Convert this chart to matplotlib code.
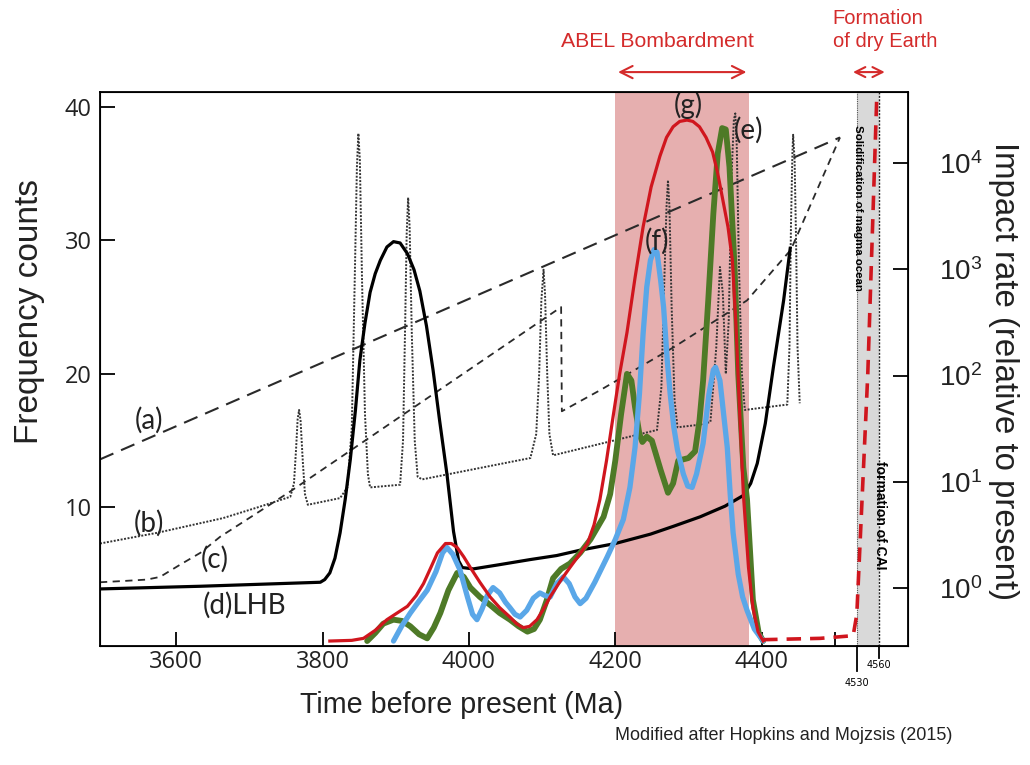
import matplotlib.pyplot as plt
from matplotlib.ticker import NullLocator

plt.rcParams['mathtext.default'] = 'regular'

# age axis (Ma) and y values (frequency counts)
a_age = [3496, 4507]
a_val = [13.6, 37.7]

b_age = [3496, 3574, 3664, 3711, 3756, 3761, 3764, 3766, 3768, 3770, 3773, 3776, 3780,
         3824, 3834, 3840, 3844, 3847, 3849, 3851, 3854, 3858, 3862, 3865,
         3906, 3910, 3913, 3915, 3917, 3919, 3922, 3926, 3930, 3936,
         4084, 4092, 4096, 4099, 4102, 4104, 4107, 4110, 4115,
         4257, 4263, 4267, 4270, 4272, 4274, 4277, 4281, 4285,
         4316, 4330, 4338, 4343, 4347, 4351, 4355, 4359, 4362, 4364, 4366, 4369, 4373, 4377,
         4435, 4438, 4440, 4442, 4443, 4445, 4447, 4449, 4452]
b_val = [7.3, 8.1, 9.2, 10.0, 10.8, 11.8, 14.5, 16.6, 17.3, 16.5, 13.5, 11.0, 10.2,
         10.7, 11.5, 16.0, 27.0, 35.5, 38.0, 36.0, 27.0, 17.0, 12.5, 11.5,
         11.7, 15.0, 24.0, 30.5, 33.2, 31.0, 23.0, 15.0, 12.3, 12.1,
         13.7, 15.5, 20.0, 25.5, 27.8, 26.0, 20.0, 15.5, 13.9,
         15.8, 19.0, 27.0, 32.5, 34.5, 32.5, 25.0, 18.0, 16.0,
         16.2, 16.4, 22.0, 28.0, 26.0, 20.0, 24.0, 35.0, 39.0, 39.5, 37.0, 28.0, 20.0, 17.3,
         17.7, 22.0, 31.0, 36.5, 37.9, 36.0, 30.0, 22.0, 17.8]

c_age = [3496, 3530, 3560, 3578, 3605, 3633, 3660, 3711, 3756, 3850, 3933, 4000, 4126, 4127,
         4180, 4280, 4380, 4440, 4507]
c_val = [4.4, 4.5, 4.6, 4.8, 5.7, 6.6, 7.8, 9.6, 11.2, 14.7, 17.8, 20.3, 25.0, 17.2,
         18.8, 22.0, 25.5, 29.3, 37.7]

lhb_age = [3496, 3633, 3797, 3803, 3810, 3817, 3824, 3831, 3838, 3845, 3851, 3858, 3865,
           3872, 3879, 3888, 3897, 3906, 3916, 3925, 3933, 3942, 3951, 3960, 3970, 3979,
           3986, 3991, 4006, 4040, 4084, 4120, 4152, 4200, 4248, 4280, 4316, 4350, 4375,
           4385, 4394, 4405, 4416, 4423, 4430, 4439]
lhb_val = [3.9, 4.1, 4.4, 4.6, 5.1, 6.2, 8.1, 10.6, 13.6, 17.3, 21.0, 23.8, 26.1,
           27.5, 28.5, 29.5, 29.9, 29.8, 29.0, 27.8, 26.2, 23.6, 20.3, 16.5, 12.5, 8.2,
           6.0, 5.5, 5.4, 5.7, 6.1, 6.4, 6.8, 7.3, 8.0, 8.6, 9.3, 10.1, 10.9,
           11.8, 13.3, 16.3, 20.5, 23.0, 25.5, 29.4]

e_age = [3861, 3872, 3883, 3897, 3909, 3920, 3932, 3943, 3952, 3961, 3972, 3984, 3993,
         4002, 4015, 4029, 4042, 4056, 4068, 4080, 4089, 4097, 4106, 4115, 4126, 4138,
         4152, 4166, 4184, 4193, 4200, 4208, 4216, 4222, 4227, 4233, 4237, 4243, 4250,
         4262, 4272, 4279, 4286, 4300, 4309, 4315, 4320, 4327, 4334, 4340, 4346, 4351,
         4356, 4363, 4368, 4375, 4380, 4388, 4396, 4402]
e_val = [0.0, 0.6, 1.3, 1.6, 1.5, 1.1, 0.5, 0.2, 1.0, 2.1, 3.8, 5.1, 4.8,
         4.0, 3.3, 2.7, 2.1, 1.6, 1.1, 0.7, 0.9, 1.6, 3.0, 4.7, 5.4, 5.8,
         6.6, 7.6, 9.3, 11.0, 13.5, 17.0, 20.0, 19.5, 17.5, 15.5, 14.9, 15.3, 15.0,
         12.8, 11.1, 11.8, 13.5, 13.7, 14.2, 16.5, 19.5, 25.5, 32.0, 36.5, 38.4, 38.3,
         35.5, 28.0, 20.0, 13.0, 10.6, 3.1, 0.6, 0.0]

f_age = [3897, 3908, 3920, 3932, 3943, 3955, 3964, 3970, 3978, 3988, 3998, 4005, 4011,
         4018, 4025, 4033, 4042, 4050, 4056, 4063, 4070, 4079, 4088, 4097, 4104, 4111,
         4120, 4129, 4137, 4145, 4152, 4160, 4172, 4189, 4200, 4211, 4220, 4227, 4233,
         4238, 4243, 4248, 4253, 4257, 4262, 4266, 4271, 4275, 4280, 4285, 4293, 4299,
         4305, 4311, 4320, 4328, 4334, 4337, 4343, 4348, 4353, 4357, 4361, 4368, 4374,
         4380, 4390, 4402]
f_val = [0.0, 1.1, 2.1, 3.0, 3.8, 5.2, 6.6, 7.0, 6.5, 5.3, 3.3, 2.0, 1.6,
         2.4, 3.4, 4.0, 3.6, 2.9, 2.5, 2.0, 1.8, 2.3, 3.2, 3.6, 3.4, 3.3,
         4.3, 4.8, 4.3, 3.3, 2.8, 3.2, 4.4, 6.3, 7.6, 9.1, 11.5, 14.5, 18.5,
         23.0, 26.5, 28.5, 29.3, 29.1, 27.0, 25.0, 21.0, 18.5, 16.0, 14.3, 12.5, 11.6,
         11.5, 12.5, 14.8, 18.5, 20.3, 20.5, 19.5, 17.0, 14.5, 11.0, 8.1, 5.0, 3.3,
         2.3, 0.9, 0.0]

g_age = [3810, 3840, 3856, 3872, 3888, 3902, 3916, 3928, 3938, 3948, 3957, 3968, 3976,
         3984, 3993, 4002, 4015, 4029, 4042, 4056, 4065, 4074, 4083, 4093, 4102, 4111,
         4125, 4138, 4150, 4162, 4171, 4179, 4188, 4197, 4206, 4216, 4227, 4238, 4249,
         4261, 4270, 4279, 4288, 4298, 4306, 4315, 4324, 4333, 4340, 4347, 4354, 4360,
         4365, 4370, 4375, 4382, 4388, 4395, 4402]
g_val = [0.0, 0.05, 0.2, 0.8, 1.6, 2.1, 2.6, 3.4, 4.3, 5.5, 6.6, 7.3, 7.3,
         7.0, 6.3, 5.5, 4.4, 3.3, 2.5, 1.8, 1.3, 1.0, 1.1, 1.6, 2.4, 3.3,
         4.5, 5.5, 6.4, 7.3, 8.7, 10.6, 13.5, 16.8, 20.0, 23.1, 27.2, 31.0, 34.0,
         36.3, 37.7, 38.5, 38.9, 39.0, 38.9, 38.5, 37.7, 36.6, 35.0, 33.0, 31.0, 28.5,
         23.5, 17.0, 11.0, 5.5, 2.5, 0.7, 0.0]

dry_age = [4402, 4480, 4525, 4530, 4545, 4558]
dry_val = [0.1, 0.2, 0.4, 2.0, 20.0, 42.0]

abel_span = [4200, 4383]
event_ages = [4530, 4560]

rate_ticks = [1, 10, 100, 1000, 10000]
rate_labels = ['$10^{0}$', '$10^{1}$', '$10^{2}$', '$10^{3}$', '$10^{4}$']

red = '#D42B2B'

fig = plt.figure(figsize=(10.3, 7.65), dpi=100)
ax = fig.add_axes([0.0971, 0.1556, 0.7845, 0.7241])

ax.axvspan(abel_span[0], abel_span[1], color='#E6AFAF', lw=0, zorder=0)
ax.axvspan(event_ages[0], event_ages[1], color='#D9D9D9', lw=0, zorder=0)
ax.axvline(event_ages[0], color='#555555', lw=0.8, ls=(0, (1, 1)), zorder=1)
ax.axvline(event_ages[1], color='#222222', lw=1.0, ls=(0, (1.5, 1)), zorder=1)

ax.plot(a_age, a_val, color='#2a2a2a', lw=1.5, ls=(0, (7, 4)), zorder=2)
ax.plot(b_age, b_val, color='#333333', lw=1.4, ls=(0, (1, 0.8)), zorder=2)
ax.plot(c_age, c_val, color='#2a2a2a', lw=1.3, ls=(0, (4, 3)), zorder=2)
ax.plot(lhb_age, lhb_val, color='black', lw=2.3, zorder=3, solid_joinstyle='round')
ax.plot(e_age, e_val, color='#4E7A27', lw=4.2, zorder=4, solid_joinstyle='round', solid_capstyle='round')
ax.plot(f_age, f_val, color='#5AA7E8', lw=3.8, zorder=5, solid_joinstyle='round', solid_capstyle='round')
ax.plot(g_age, g_val, color='#D0161E', lw=2.3, zorder=6, solid_joinstyle='round')
ax.plot(dry_age, dry_val, color='#D0161E', lw=2.6, ls=(0, (4, 2.5)), zorder=6)

lab = dict(fontsize=20, family='Lato', color='#222222', ha='center', va='center', zorder=7)
ax.text(3563, 16.5, '(a)', **lab)
ax.text(3563, 8.8, '(b)', **lab)
ax.text(3653, 6.1, '(c)', **lab)
ax.text(3694, 2.7, '(d)LHB', **lab)
ax.text(4300, 40.1, '(g)', **lab)
ax.text(4382, 38.2, '(e)', **lab)
ax.text(4257, 29.9, '(f)', **lab)

ax.text(4532, 32.4, 'Solidification of magma ocean', rotation=270, fontsize=8.2,
        fontweight='bold', ha='center', va='center', family='Liberation Sans')
ax.text(4561, 9.4, 'formation of CAI', rotation=270, fontsize=10,
        fontweight='bold', ha='center', va='center', family='Liberation Sans')

ax.set_xlim(3496, 4600)
ax.set_ylim(-0.37, 41.1)
ax.set_xticks([3600, 3800, 4000, 4200, 4400, 4500])
ax.set_xticklabels(['3600', '3800', '4000', '4200', '4400', ''])
ax.set_yticks([10, 20, 30, 40])
ax.tick_params(axis='x', direction='in', length=10, width=1.3, labelsize=17, pad=3,
               labelcolor='#222222')
ax.tick_params(axis='y', direction='in', length=11, width=1.3, labelsize=17, pad=6,
               labelcolor='#222222')
for lbl in ax.get_xticklabels() + ax.get_yticklabels():
    lbl.set_family('Open Sans')
for s in ax.spines.values():
    s.set_linewidth(1.3)

xt = ax.get_xaxis_transform()
ax.plot([event_ages[0]] * 2, [0, -0.045], transform=xt, color='black', lw=1.3, clip_on=False)
ax.plot([event_ages[1]] * 2, [0, -0.022], transform=xt, color='black', lw=1.3, clip_on=False)
ax.text(event_ages[0], -0.066, str(event_ages[0]), transform=xt, fontsize=7,
        ha='center', va='center')
ax.text(event_ages[1], -0.034, str(event_ages[1]), transform=xt, fontsize=7,
        ha='center', va='center')

ax2 = ax.twinx()
ax2.set_yscale('log')
ax2.set_ylim(10 ** -0.547, 10 ** 4.67)
ax2.set_yticks(rate_ticks)
ax2.set_yticklabels(rate_labels)
ax2.yaxis.set_minor_locator(NullLocator())
ax2.tick_params(axis='y', direction='in', length=11, width=1.3, labelsize=20, pad=22,
                labelcolor='#222222')
for lbl in ax2.get_yticklabels():
    lbl.set_family('Liberation Sans')

# top annotations
ax.annotate('', xy=(abel_span[1], 1.036), xytext=(abel_span[0], 1.036), xycoords=xt,
            arrowprops=dict(arrowstyle='<->', color=red, lw=1.5, mutation_scale=22),
            annotation_clip=False)
ax.text(4258, 1.092, 'ABEL Bombardment', transform=xt, color=red, fontsize=15.3,
        ha='center', va='center', family='Liberation Sans')
ax.annotate('', xy=(4572, 1.036), xytext=(4521, 1.036), xycoords=xt,
            arrowprops=dict(arrowstyle='<->', color=red, lw=1.5, mutation_scale=18),
            annotation_clip=False)
ax.text(4497, 1.112, 'Formation\nof dry Earth', transform=xt, color=red, fontsize=14.5,
        ha='left', va='center', family='Liberation Sans', linespacing=1.25)

fig.text(462 / 1030, 1 - 705 / 765, 'Time before present (Ma)', ha='center', va='center',
         fontsize=20.7, family='Liberation Sans', color='#222222')
fig.text(30 / 1030, 1 - 312 / 765, 'Frequency counts', rotation=90, ha='center',
         va='center', fontsize=24, family='Liberation Sans', color='#222222')
fig.text(1003 / 1030, 1 - 371 / 765, 'Impact rate (relative to present)', rotation=270,
         ha='center', va='center', fontsize=23.8, family='Liberation Sans', color='#222222')
fig.text(952 / 1030, 1 - 735 / 765, 'Modified after Hopkins and Mojzsis (2015)', ha='right',
         va='center', fontsize=13, family='Liberation Sans', color='#222222')

fig.savefig('out.png', dpi=100)
